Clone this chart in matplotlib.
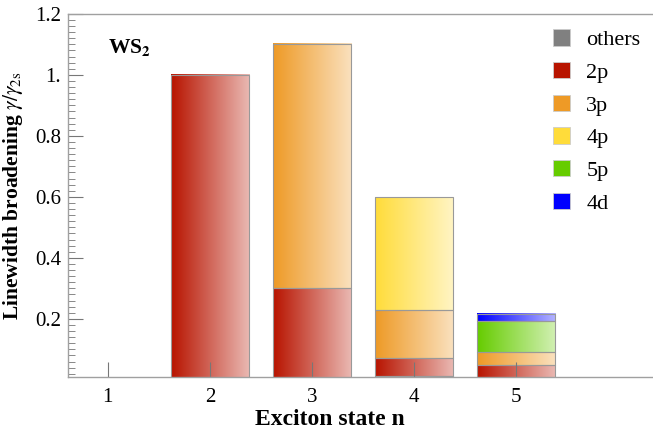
import numpy as np
import matplotlib
matplotlib.use("Agg")
import matplotlib.pyplot as plt
from matplotlib.patches import Patch
from matplotlib.colors import to_rgb
from matplotlib.ticker import MultipleLocator

plt.rcParams['font.family'] = ['Liberation Serif', 'DejaVu Serif']
plt.rcParams['mathtext.fontset'] = 'stix'

states = [1, 2, 3, 4, 5]
components = ["others", "2p", "3p", "4p", "5p", "4d"]
colors = ["#808080", "#b81400", "#ee9a26", "#ffdc3a", "#66cc00", "#0000ff"]
values = {
    "others": [0.0, 0.0, 0.0, 0.013, 0.004],
    "2p":     [0.0, 1.0, 0.30, 0.060, 0.046],
    "3p":     [0.0, 0.0, 0.80, 0.157, 0.041],
    "4p":     [0.0, 0.0, 0.0, 0.370, 0.0],
    "5p":     [0.0, 0.0, 0.0, 0.0, 0.101],
    "4d":     [0.0, 0.0, 0.0, 0.0, 0.024],
}
yticks = [0.2, 0.4, 0.6, 0.8, 1.0, 1.2]
yticklabels = ["0.2", "0.4", "0.6", "0.8", "1.", "1.2"]

fig = plt.figure(figsize=(6.53, 4.33), dpi=100)
ax = fig.add_axes([0.104, 0.129, 0.896, 0.839])

width = 0.765
bottoms = np.zeros(len(states))
for comp, col in zip(components, colors):
    vals = np.array(values[comp])
    rgb = np.array(to_rgb(col))
    t = np.linspace(0, 1, 64)[:, None]
    grad = rgb * (1 - 0.7 * t) + np.ones(3) * 0.7 * t
    grad = grad[None, :, :]
    for x, b, v in zip(states, bottoms, vals):
        if v <= 0:
            continue
        ax.imshow(grad, extent=[x - width / 2, x + width / 2, b, b + v],
                  aspect='auto', zorder=2, interpolation='bilinear')
    lw = [0.8 if v > 0 else 0.0 for v in vals]
    ax.bar(states, vals, width=width, bottom=bottoms, facecolor='none',
           edgecolor='#999999', linewidth=lw, zorder=3)
    bottoms = bottoms + vals

ax.set_xlim(0.61, 6.34)
ax.set_ylim(0.009, 1.2)
ax.set_xticks(states)
ax.set_xticklabels([str(s) for s in states])
ax.set_yticks(yticks)
ax.set_yticklabels(yticklabels)
ax.yaxis.set_minor_locator(MultipleLocator(0.02))

for s in ['left', 'bottom', 'top']:
    ax.spines[s].set_color('#a0a0a0')
    ax.spines[s].set_linewidth(1.0)
    ax.spines[s].set_zorder(6)
ax.spines['right'].set_visible(False)
ax.tick_params(axis='both', which='major', direction='in', length=11,
               color='#777777', labelsize=15, width=0.8)
ax.tick_params(axis='y', which='minor', direction='in', length=5,
               color='#888888', width=0.7)
ax.tick_params(axis='x', which='major', pad=8)
ax.tick_params(axis='y', which='major', pad=5)
ax.xaxis.set_zorder(5)
ax.yaxis.set_zorder(5)

ax.set_xlabel("Exciton state n", fontsize=17, fontweight='bold')
ax.xaxis.set_label_coords(0.448, -0.089)
ax.set_ylabel(r"Linewidth broadening $\gamma/\gamma_{2\mathrm{s}}$", fontsize=15.5,
              fontweight='bold', labelpad=7)
ax.text(1.0, 1.09, r"WS$_\mathbf{2}$", fontsize=15.5, fontweight='bold',
        ha='left', va='center', zorder=6)

handles = [Patch(facecolor=c, edgecolor='#cccccc', linewidth=0.6) for c in colors]
ax.legend(handles, components, loc='upper right', bbox_to_anchor=(1.005, 1.0),
          frameon=False, fontsize=16, handlelength=0.75, handleheight=0.75,
          handletextpad=0.75, labelspacing=0.53, borderaxespad=0.3)

fig.savefig("out.png", dpi=100)
